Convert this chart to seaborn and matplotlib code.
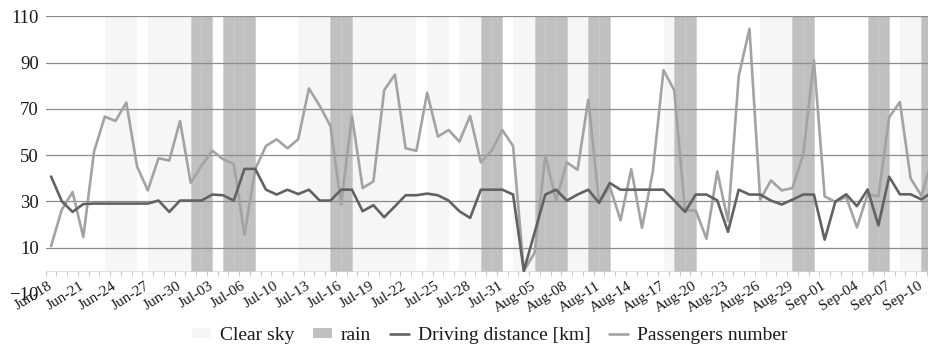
import numpy as np
import pandas as pd
import matplotlib
matplotlib.use("Agg")
import matplotlib.pyplot as plt
from matplotlib.patches import Patch
from matplotlib.lines import Line2D
import seaborn as sns

# ---------------- data ----------------
tick_labels = ["Jun-18", "Jun-21", "Jun-24", "Jun-27", "Jun-30", "Jul-03", "Jul-06",
               "Jul-10", "Jul-13", "Jul-16", "Jul-19", "Jul-22", "Jul-25", "Jul-28",
               "Jul-31", "Aug-05", "Aug-08", "Aug-11", "Aug-14", "Aug-17", "Aug-20",
               "Aug-23", "Aug-26", "Aug-29", "Sep-01", "Sep-04", "Sep-07", "Sep-10"]

passengers = [10.7, 26.5, 34.1, 14.6, 51.6, 66.7, 64.8, 72.8, 45.2, 34.8,
              48.7, 47.7, 64.8, 38.0, 45.5, 52.0, 48.3, 46.3, 15.7, 44.0,
              54.0, 56.9, 53.0, 56.9, 78.9, 71.4, 62.7, 28.7, 67.0, 35.8,
              38.7, 78.1, 84.9, 53.0, 51.9, 77.0, 58.1, 60.9, 55.9, 67.0,
              46.9, 52.0, 60.9, 54.0, 0.0, 7.8, 49.9, 30.5, 46.9, 43.7,
              74.1, 29.4, 36.5, 21.9, 44.0, 18.6, 42.7, 86.8, 78.1, 26.1,
              26.1, 13.9, 43.0, 21.5, 84.2, 104.7, 30.8, 39.1, 34.8, 35.8,
              50.2, 91.1, 32.2, 29.8, 32.0, 18.8, 33.1, 32.2, 66.4, 73.0,
              40.0, 32.5, 48.0]

driving = [40.8, 30.1, 25.5, 28.9, 29.1, 29.1, 29.1, 29.1, 29.1, 29.1,
           30.4, 25.5, 30.4, 30.4, 30.4, 33.0, 32.7, 30.4, 44.1, 44.1,
           35.1, 33.0, 35.1, 33.2, 35.1, 30.4, 30.4, 35.1, 35.1, 25.8,
           28.4, 23.2, 27.9, 32.7, 32.7, 33.4, 32.7, 30.4, 25.8, 22.9,
           35.1, 35.1, 35.1, 33.0, 0.0, 16.5, 33.0, 35.1, 30.4, 33.0,
           35.1, 29.4, 38.0, 35.1, 35.1, 35.1, 35.1, 35.1, 30.4, 25.5,
           33.0, 33.0, 30.5, 16.9, 35.1, 33.0, 33.0, 30.4, 28.7, 30.8,
           33.0, 33.0, 13.5, 30.0, 33.1, 28.0, 35.2, 19.7, 40.7, 33.1,
           33.1, 30.9, 34.0]

# weather per interval between consecutive days: "C" clear sky, "R" rain, "" none
weather = ["", "", "", "", "", "C", "C", "C", "", "C",
           "C", "C", "C", "R", "R", "", "R", "R", "R", "",
           "", "", "", "C", "C", "C", "R", "R", "C", "C",
           "C", "C", "C", "C", "", "C", "C", "", "C", "C",
           "R", "R", "", "C", "C", "R", "R", "R", "C", "C",
           "R", "R", "", "", "", "", "", "C", "R", "R",
           "", "", "", "", "", "", "C", "C", "C", "R",
           "R", "", "", "", "", "", "R", "R", "", "C",
           "C", "R"]

# ---------------- style ----------------
sns.set_theme(style="white")
plt.rcParams["font.family"] = ["Liberation Serif", "DejaVu Serif"]

TEXT = "#1a1a1a"
CLEAR_C = "#f6f6f6"
RAIN_C = "#c0c0c0"
DRIVE_C = "#626262"
PASS_C = "#a3a3a3"
GRID_C = "#8c8c8c"

fig = plt.figure(figsize=(9.29, 3.48), dpi=100)
ax = fig.add_axes([0.0492, 0.1552, 1 - 0.0492, 0.9526 - 0.1552])

# background weather bars
w = np.array(weather)
pos = np.arange(len(weather))
ax.bar(pos[w == "C"], 110, bottom=0, width=1, align="edge", color=CLEAR_C,
       linewidth=0, zorder=0.2)
ax.bar(pos[w == "R"], 110, bottom=0, width=1, align="edge", color=RAIN_C,
       edgecolor="#c9c9c9", linewidth=0.4, zorder=0.3)

df = pd.DataFrame({"day": np.arange(len(driving)),
                   "driving": driving, "passengers": passengers})
sns.lineplot(data=df, x="day", y="passengers", color=PASS_C, lw=1.9, ax=ax, zorder=3)
sns.lineplot(data=df, x="day", y="driving", color=DRIVE_C, lw=1.9, ax=ax, zorder=4)

ax.set_ylim(-10, 110)
ax.set_xlim(-0.5, 81.71)
ax.set_yticks(np.arange(-10, 111, 20))
ax.set_axisbelow(True)
ax.yaxis.grid(True, color=GRID_C, lw=0.9)
ax.xaxis.grid(False)
for s in ax.spines.values():
    s.set_visible(False)
ax.set_xlabel("")
ax.set_ylabel("")
ax.tick_params(axis="y", length=0, pad=5, labelsize=13.5, labelcolor=TEXT)

ax.set_xticks(np.arange(0, 3 * len(tick_labels), 3))
ax.set_xticklabels(tick_labels, rotation=32, ha="right", va="center",
                   rotation_mode="anchor", fontsize=11, color=TEXT)
ax.tick_params(axis="x", length=0, pad=-6.5)

# category axis crossing at y = 0
sec = ax.secondary_xaxis(10 / 120)
sec.set_xticks(np.arange(-0.5, 82, 1))
sec.set_xticklabels([])
sec.tick_params(axis="x", direction="out", length=3.5, width=0.8, color="#c8c8c8")
sec.spines["bottom"].set_color("#e0e0e0")
sec.spines["bottom"].set_linewidth(0.8)

handles = [Patch(facecolor=CLEAR_C, edgecolor="none"),
           Patch(facecolor=RAIN_C, edgecolor="none"),
           Line2D([], [], color=DRIVE_C, lw=1.9),
           Line2D([], [], color=PASS_C, lw=1.9)]
labels = ["Clear sky", "rain", "Driving distance [km]", "Passengers number"]
fig.legend(handles, labels, loc="center", bbox_to_anchor=(0.527, 0.036), ncol=4,
           frameon=False, fontsize=14, handlelength=1.0, handleheight=0.35,
           handletextpad=0.45, columnspacing=0.95, labelcolor=TEXT)

fig.savefig("out.png", dpi=100)
